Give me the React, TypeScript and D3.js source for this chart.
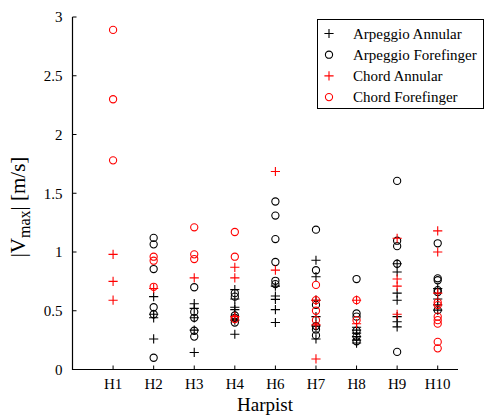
import React from "react";
import * as d3 from "d3";

const harpists = ["H1", "H2", "H3", "H4", "H6", "H7", "H8", "H9", "H10"];
const yTicks = [0, 0.5, 1, 1.5, 2, 2.5, 3];

// values per harpist, in the order of harpists
const arpeggioAnnular: number[][] = [
  [],
  [0.62, 0.47, 0.44, 0.26],
  [0.56, 0.52, 0.44, 0.335, 0.145],
  [0.68, 0.6, 0.53, 0.51, 0.42, 0.3],
  [0.71, 0.625, 0.597, 0.51, 0.4],
  [0.93, 0.79, 0.59, 0.45, 0.37, 0.26],
  [0.36, 0.335, 0.31, 0.28, 0.25, 0.225],
  [0.9, 0.83, 0.65, 0.59, 0.45, 0.406, 0.363],
  [0.69, 0.6, 0.55, 0.505],
];
const arpeggioForefinger: number[][] = [
  [],
  [1.12, 1.065, 0.855, 0.53, 0.47, 0.1],
  [0.7, 0.49, 0.44, 0.33, 0.28],
  [0.65, 0.62, 0.46, 0.44, 0.4],
  [1.43, 1.31, 1.11, 0.915, 0.755, 0.727],
  [1.19, 0.845, 0.55, 0.37, 0.34, 0.29],
  [0.77, 0.477, 0.45, 0.33, 0.28, 0.24],
  [1.605, 1.096, 1.05, 0.9, 0.15],
  [1.074, 0.776, 0.76, 0.676, 0.66, 0.505],
];
const chordAnnular: number[][] = [
  [0.98, 0.75, 0.59],
  [0.69],
  [0.78],
  [0.87, 0.78, 0.45],
  [1.685, 0.846],
  [0.59, 0.38, 0.09],
  [0.59, 0.39],
  [1.117, 0.77, 0.71, 0.47],
  [1.18, 1.0, 0.65],
];
const chordForefinger: number[][] = [
  [2.89, 2.3, 1.78],
  [0.96, 0.926, 0.704],
  [1.21, 0.98, 0.94],
  [1.17, 0.96, 0.43],
  [],
  [0.72, 0.59, 0.5, 0.42],
  [0.59, 0.42],
  [],
  [0.57, 0.548, 0.45, 0.42, 0.39, 0.235, 0.18],
];

const seriesNames = ["Arpeggio Annular", "Arpeggio Forefinger", "Chord Annular", "Chord Forefinger"];
const seriesData = [arpeggioAnnular, arpeggioForefinger, chordAnnular, chordForefinger];
const seriesColor = ["#000000", "#000000", "#ff0000", "#ff0000"];
const seriesShape = ["plus", "circle", "plus", "circle"];

const font = "'Liberation Serif', 'Times New Roman', serif";

function Marker({ x, y, shape, color }: { x: number; y: number; shape: string; color: string }) {
  if (shape === "circle") {
    return <circle cx={x} cy={y} r={3.6} fill="none" stroke={color} strokeWidth={1.1} />;
  }
  const s = 4.6;
  return (
    <path d={`M${x - s},${y}H${x + s}M${x},${y - s}V${y + s}`} stroke={color} strokeWidth={1.1} fill="none" />
  );
}

export default function App() {
  const width = 486;
  const height = 416;
  const left = 72.5;
  const xScale = d3.scaleLinear().domain([0, 9.5]).range([left, 458]);
  const yScale = d3.scaleLinear().domain([0, 3]).range([369.5, 17]);
  const y0 = yScale(0);

  return (
    <svg
      width={width}
      height={height}
      style={{ position: "absolute", left: 0, top: 0, background: "#fff" }}
      fontFamily={font}
    >
      {/* points */}
      {seriesData.map((series, si) =>
        series.map((vals, hi) =>
          vals.map((v, k) => (
            <Marker
              key={`${si}-${hi}-${k}`}
              x={xScale(hi + 1)}
              y={yScale(v)}
              shape={seriesShape[si]}
              color={seriesColor[si]}
            />
          ))
        )
      )}

      {/* axes */}
      <path d={`M${left},${yScale(3)}V${y0}H${xScale(9.5)}`} stroke="#000" strokeWidth={1.2} fill="none" />
      {yTicks.map((t) => (
        <g key={t}>
          <line x1={left} x2={left + 4} y1={yScale(t)} y2={yScale(t)} stroke="#000" strokeWidth={1} />
          <text x={left - 10} y={yScale(t)} dy="0.35em" textAnchor="end" fontSize={15}>
            {t}
          </text>
        </g>
      ))}
      {harpists.map((h, i) => (
        <g key={h}>
          <line x1={xScale(i + 1)} x2={xScale(i + 1)} y1={y0} y2={y0 - 4} stroke="#000" strokeWidth={1} />
          <text x={xScale(i + 1)} y={y0 + 19} textAnchor="middle" fontSize={15}>
            {h}
          </text>
        </g>
      ))}

      {/* axis titles */}
      <text x={265} y={411} textAnchor="middle" fontSize={19}>
        Harpist
      </text>
      <text transform="translate(25,207) rotate(-90)" textAnchor="middle" fontSize={21}>
        |V<tspan fontSize={16} dy={5}>max</tspan>
        <tspan dy={-5}>| [m/s]</tspan>
      </text>

      {/* legend */}
      <rect x={317.5} y={19.5} width={166} height={89} fill="#fff" stroke="#000" strokeWidth={1} />
      {seriesNames.map((name, i) => {
        const ly = 33.5 + i * 21.2;
        return (
          <g key={name}>
            <Marker x={329} y={ly} shape={seriesShape[i]} color={seriesColor[i]} />
            <text x={353} y={ly} dy="0.35em" fontSize={15}>
              {name}
            </text>
          </g>
        );
      })}
    </svg>
  );
}
